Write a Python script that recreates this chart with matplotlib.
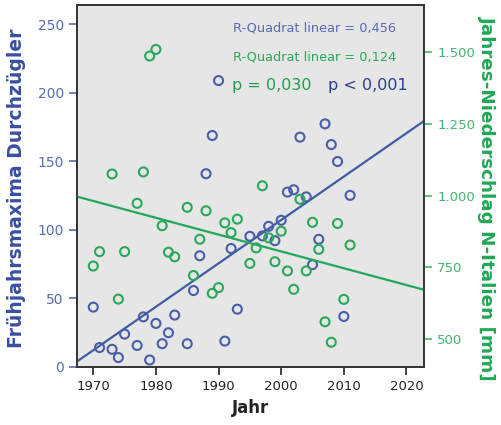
import matplotlib.pyplot as plt
import numpy as np

# Frühjahrsmaxima Durchzügler (linke Achse)
jahr_b = [1970, 1971, 1973, 1974, 1975, 1977, 1978, 1979, 1980, 1981, 1982, 1983,
          1985, 1986, 1987, 1988, 1989, 1990, 1991, 1992, 1993, 1995, 1997, 1998,
          1999, 2000, 2001, 2002, 2003, 2004, 2005, 2006, 2007, 2008, 2009, 2010, 2011]
durchzuegler = [43.5, 14, 12.7, 6.7, 23.8, 15.5, 36.4, 4.9, 31.6, 16.8, 24.8, 37.7,
                16.8, 55.6, 81, 140.9, 168.8, 208.9, 18.7, 86.3, 42, 95.2, 95.5, 102.5,
                92, 106.9, 127.5, 129.2, 167.6, 124, 74.5, 93, 177.3, 162.2, 149.8, 36.7, 125.1]

# Jahres-Niederschlag N-Italien (rechte Achse)
jahr_g = [1970, 1971, 1973, 1974, 1975, 1977, 1978, 1979, 1980, 1981, 1982, 1983,
          1985, 1986, 1987, 1988, 1989, 1990, 1991, 1992, 1993, 1995, 1996, 1997,
          1998, 1999, 2000, 2001, 2002, 2003, 2004, 2005, 2006, 2007, 2008, 2009, 2010, 2011]
niederschlag = [755, 805, 1075, 640, 805, 973, 1082, 1485, 1508, 895, 803, 787,
                959, 722, 848, 947, 660, 680, 905, 871, 918, 764, 818, 1034,
                853, 770, 876, 738, 674, 987, 738, 907, 813, 561, 490, 903, 639, 828]

blau = '#4a5ea8'
gruen = '#2aa85a'

fig = plt.figure(figsize=(5.02, 4.25), dpi=100)
ax = fig.add_axes([0.1534, 0.1365, 0.6912, 0.8515])
ax.set_facecolor('#e6e6e6')
ax2 = ax.twinx()

ax.set_xlim(1967.4, 2022.8)
ax.set_ylim(-0.2, 264)
ax2.set_ylim(404, 1662)

# Regressionsgeraden über den ganzen x-Bereich
xl = np.array(ax.get_xlim())
kb = np.polyfit(jahr_b, durchzuegler, 1)
kg = np.polyfit(jahr_g, niederschlag, 1)
ax.plot(xl, np.polyval(kb, xl), color='#3f5ca6', lw=1.6, zorder=2)
ax2.plot(xl, np.polyval(kg, xl), color='#22a85a', lw=1.6, zorder=2)

ax.scatter(jahr_b, durchzuegler, s=42, facecolors='none', edgecolors=blau,
           linewidths=1.5, zorder=3)
ax2.scatter(jahr_g, niederschlag, s=42, facecolors='none', edgecolors=gruen,
            linewidths=1.5, zorder=3)

ax.set_xticks([1970, 1980, 1990, 2000, 2010, 2020])
ax.set_yticks([0, 50, 100, 150, 200, 250])
ax2.set_yticks([500, 750, 1000, 1250, 1500])
ax2.set_yticklabels(['500', '750', '1.000', '1.250', '1.500'])

ax.tick_params(axis='x', length=6, width=1.2, colors='#222222', labelsize=9.5)
ax.tick_params(axis='y', length=6, width=1.2, colors='#5a6aae', labelsize=10)
ax2.tick_params(axis='y', length=6, width=1.2, colors='#45b46e', labelsize=9.5)
for a in (ax, ax2):
    for s in a.spines.values():
        s.set_color('#333333')
        s.set_linewidth(1.2)

ax.set_xlabel('Jahr', fontsize=12, fontweight='bold', color='#222222', labelpad=4)
ax.set_ylabel('Frühjahrsmaxima Durchzügler', fontsize=13.5, fontweight='bold',
              color='#3a4ea0')
ax.yaxis.set_label_coords(-0.146, 0.494)
ax2.set_ylabel('Jahres-Niederschlag N-Italien [mm]', fontsize=13.2, fontweight='bold',
               color='#1fa855', rotation=270)
ax2.yaxis.set_label_coords(1.208, 0.468)

ax.text(0.450, 0.936, 'R-Quadrat linear = 0,456', transform=ax.transAxes,
        color='#5a6aae', fontsize=9.3, va='center')
ax.text(0.450, 0.856, 'R-Quadrat linear = 0,124', transform=ax.transAxes,
        color='#2aa85a', fontsize=9.3, va='center')
ax.text(0.447, 0.779, 'p = 0,030', transform=ax.transAxes,
        color='#1f9f50', fontsize=11.5, va='center')
ax.text(0.722, 0.779, 'p < 0,001', transform=ax.transAxes,
        color='#2a3f90', fontsize=11.5, va='center')

fig.savefig('out.png', dpi=100)
